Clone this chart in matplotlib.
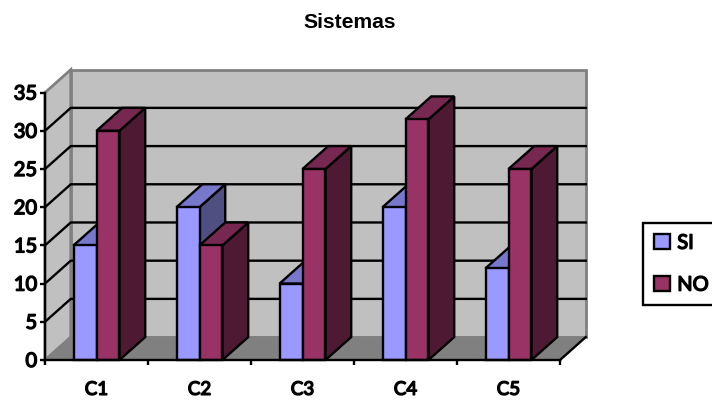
import matplotlib
matplotlib.use("Agg")
import matplotlib.pyplot as plt
import matplotlib.patheffects as pe
from matplotlib.patches import Polygon, Patch

categories = ["C1", "C2", "C3", "C4", "C5"]
si_values = [15, 20, 10, 20, 12]
no_values = [30, 15, 25, 31.5, 25]
y_ticks = [0, 5, 10, 15, 20, 25, 30, 35]

# depth of the 3D box, in axis units
DX = 0.25
DY = 3.0
BAR_W = 0.223
LW = 1.7
# Lato only comes in one weight here, so thicken it with a thin stroke
BOLD = [pe.withStroke(linewidth=1.0, foreground="black")]

fig = plt.figure(figsize=(7.12, 4.03), dpi=100)
ax = fig.add_axes([0, 0, 1, 1])
ax.set_xlim(-45 / 103, (712 - 45) / 103)
ax.set_ylim(-(403 - 360) / 7.64, 360 / 7.64)

n = len(categories)
top = y_ticks[-1]


def poly(pts, face, edge="black", lw=LW, z=2):
    ax.add_patch(Polygon(pts, closed=True, facecolor=face, edgecolor=edge,
                         linewidth=lw, zorder=z, joinstyle="miter"))


def bar3d(x, h, front, roof, side, z):
    w = BAR_W
    poly([(x + w, 0), (x + w + DX, DY), (x + w + DX, h + DY), (x + w, h)], side, z=z)
    poly([(x, h), (x + DX, h + DY), (x + w + DX, h + DY), (x + w, h)], roof, z=z)
    poly([(x, 0), (x + w, 0), (x + w, h), (x, h)], front, z=z)


# walls and floor
poly([(DX, DY), (n + DX, DY), (n + DX, top + DY), (DX, top + DY)], "#C0C0C0", "#808080", 2, 1)
poly([(0, 0), (DX, DY), (DX, top + DY), (0, top)], "#C0C0C0", "#808080", 2, 1)
poly([(0, 0), (n, 0), (n + DX, DY), (DX, DY)], "#808080", "#808080", 1, 1)
ax.plot([n, n + DX], [0, DY], color="black", lw=LW, zorder=1.5)

# gridlines on the side and back walls
for v in y_ticks[1:-1]:
    ax.plot([0, DX, n + DX], [v, v + DY, v + DY], color="black", lw=LW, zorder=1.5)

for i in range(n):
    c = i + 0.5
    bar3d(c - BAR_W, si_values[i], "#9999FF", "#7777CC", "#4F4F82", 3 + i)
    bar3d(c, no_values[i], "#993366", "#772850", "#4D1933", 3.5 + i)

# axes
for s in ["top", "right"]:
    ax.spines[s].set_visible(False)
ax.spines["left"].set_position(("data", 0))
ax.spines["bottom"].set_position(("data", 0))
ax.spines["left"].set_bounds(0, top)
ax.spines["bottom"].set_bounds(0, n)
ax.spines["left"].set_linewidth(LW)
ax.spines["bottom"].set_linewidth(LW)
ax.spines["left"].set_zorder(10)
ax.spines["bottom"].set_zorder(10)

ax.set_yticks(y_ticks)
ax.set_xticks(range(n + 1))
ax.set_xticklabels([])
ax.set_xticks([i + 0.5 for i in range(n)], labels=categories, minor=True)
ax.tick_params(axis="x", which="major", length=3.6, width=LW, direction="out")
ax.tick_params(axis="x", which="minor", length=0, pad=15)
ax.tick_params(axis="y", length=3.6, width=LW, pad=2)
for lab in ax.get_xticklabels(minor=True) + ax.get_yticklabels():
    lab.set_family("Lato")
    lab.set_path_effects(BOLD)
for lab in ax.get_xticklabels(minor=True):
    lab.set_fontsize(13.5)
for lab in ax.get_yticklabels():
    lab.set_fontsize(14.5)

fig.text(350 / 712, 1 - 23 / 403, "Sistemas", family="Liberation Sans", fontweight="bold",
         fontsize=15.2, ha="center", va="center")

handles = [Patch(facecolor="#9999FF", edgecolor="black", linewidth=LW, label="SI"),
           Patch(facecolor="#993366", edgecolor="black", linewidth=LW, label="NO")]
leg = fig.legend(handles=handles, loc="upper left", bbox_to_anchor=(643 / 712, 1 - 223 / 403),
                 borderaxespad=0, frameon=True, fancybox=False, edgecolor="black", framealpha=1,
                 prop={"family": "Lato", "size": 14.5},
                 handlelength=0.8, handleheight=0.8, handletextpad=0.35,
                 labelspacing=1.2, borderpad=0.55)
leg.get_frame().set_linewidth(LW)
for t in leg.get_texts():
    t.set_path_effects(BOLD)

fig.savefig("out.png", dpi=100)
